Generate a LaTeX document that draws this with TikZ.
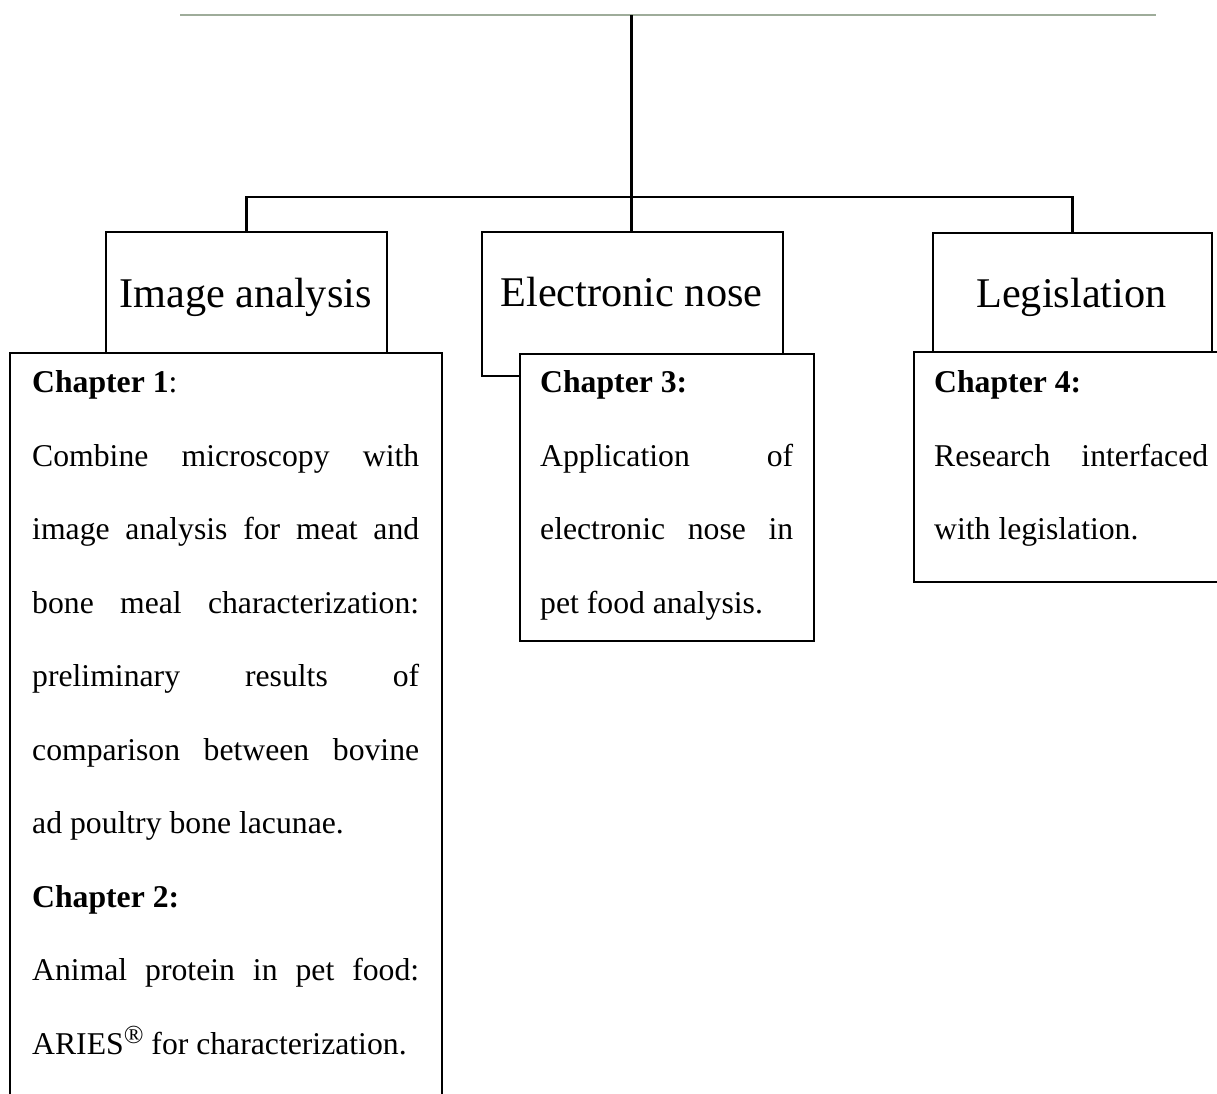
\documentclass[tikz,border=0pt]{standalone}
\usepackage{fontspec}
\setmainfont{Liberation Serif}
\definecolor{rulegray}{RGB}{158,172,154}
\newcommand{\regmark}{\raisebox{0.34em}{\fontsize{26pt}{26pt}\selectfont ®}}
\begin{document}
\begin{tikzpicture}[x=1pt,y=-1pt,
  frame/.style={draw, line width=2pt, fill=white, inner sep=0pt, anchor=north west},
  heading/.style={font=\fontsize{42.3pt}{50pt}\selectfont, inner sep=0pt, anchor=base},
  body/.style={font=\fontsize{31.7pt}{73.5pt}\selectfont, inner sep=0pt, anchor=base west, align=justify},
  link/.style={line width=2.6pt},
  headrule/.style={draw=rulegray, line width=2pt}]
\useasboundingbox (0,0) rectangle (1217,1093);
\clip (0,0) rectangle (1217,1093);

% header rule and the point where the tree starts
\coordinate (rl) at (180,15);
\coordinate (rr) at (1156,15);
\coordinate (top) at (631.5,15);
\coordinate (hub) at (631.5,197);
\draw[headrule] (rl) -- (rr);

% topic boxes
\node[frame, minimum width=281pt, minimum height=121pt] (ia) at (105,231) {};
\node[frame, minimum width=301pt, minimum height=144pt] (en) at (481,231) {};
\node[frame, minimum width=279pt, minimum height=120pt] (leg) at (932,231.5) {};

% tree connectors
\draw[link] (top) -- (top |- en.north);
\draw[link] (ia.north) |- (hub) -| (leg.north);

% topic labels
\node[heading] (iat) at (245.5,307.7) {Image analysis};
\node[heading] (ent) at (631.5,306.7) {Electronic nose};
\node[heading] (legt) at (1071.5,307.7) {Legislation};

% chapter boxes, laid over the topic boxes
\node[frame, minimum width=432pt, minimum height=760pt] (c1) at (9,352) {};
\node[frame, minimum width=294pt, minimum height=287pt] (c3) at (519,353) {};
\node[frame, minimum width=317pt, minimum height=230pt] (c4) at (913,351) {};

% chapter texts
\node[body, text width=387pt] (c1t) at (32,392.7) {%
\textbf{Chapter 1}:\par
Combine microscopy with\linebreak
image analysis for meat and\linebreak
bone meal characterization:\linebreak
preliminary results of\linebreak
comparison between bovine\linebreak
ad poultry bone lacunae.\par
\textbf{Chapter 2:}\par
Animal protein in pet food:\linebreak
ARIES\regmark{} for characterization.};

\node[body, text width=253pt] (c3t) at (540,392.7) {%
\textbf{Chapter 3:}\par
Application of\linebreak
electronic nose in\linebreak
pet food analysis.};

\node[body, text width=274pt] (c4t) at (934,392.7) {%
\textbf{Chapter 4:}\par
Research interfaced\linebreak
with legislation.};
\end{tikzpicture}
\end{document}
